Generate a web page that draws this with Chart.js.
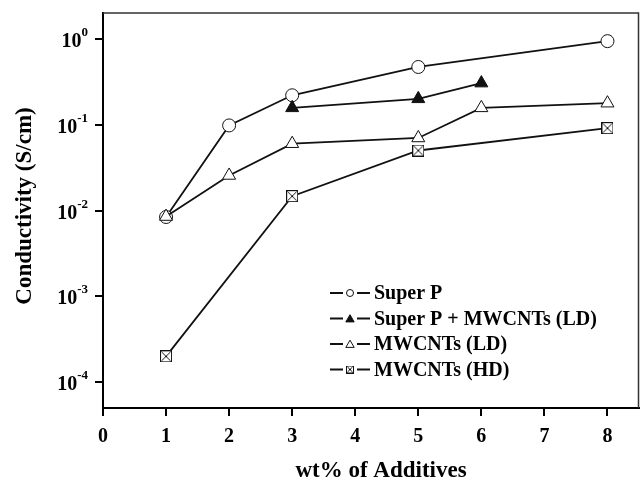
<!DOCTYPE html>
<html>
<head>
<meta charset="utf-8">
<script src="https://cdn.jsdelivr.net/npm/chart.js@4"></script>
<style>
html, body { margin: 0; padding: 0; background: #fff; }
canvas { display: block; }
</style>
</head>
<body>
<canvas id="chart" width="640" height="480"></canvas>
<script>
// data
const seriesLabels = ["Super P", "Super P + MWCNTs (LD)", "MWCNTs (LD)", "MWCNTs (HD)"];

const superPX = [1, 2, 3, 5, 8];
const superPY = [0.0084, 0.098, 0.22, 0.47, 0.94];

const superPMwX = [3, 5, 6];
const superPMwY = [0.157, 0.2, 0.305];

const mwLdX = [1, 2, 3, 5, 6, 8];
const mwLdY = [0.0085, 0.0256, 0.06, 0.07, 0.157, 0.178];

const mwHdX = [1, 3, 5, 8];
const mwHdY = [0.0002, 0.0147, 0.05, 0.091];

const xTicks = [0, 1, 2, 3, 4, 5, 6, 7, 8];
const yTicks = [1e-4, 1e-3, 1e-2, 1e-1, 1];
const yTickExp = ["-4", "-3", "-2", "-1", "0"];

const xTitle = "wt% of Additives";
const yTitle = "Conductivity (S/cm)";

const FONT = "'Liberation Serif', 'Times New Roman', serif";

// crossed square marker
function crossSquare(size) {
    const c = document.createElement("canvas");
    c.width = size;
    c.height = size;
    const g = c.getContext("2d");
    g.fillStyle = "#fff";
    g.fillRect(0, 0, size, size);
    g.strokeStyle = "#111";
    g.lineWidth = 1;
    g.strokeRect(0.5, 0.5, size - 1, size - 1);
    g.beginPath();
    g.moveTo(1.5, 1.5); g.lineTo(size - 1.5, size - 1.5);
    g.moveTo(size - 1.5, 1.5); g.lineTo(1.5, size - 1.5);
    g.stroke();
    return c;
}

const markers = [
    { style: "circle", fill: "#fff", radius: 6.5 },
    { style: "triangle", fill: "#111", radius: 7.5 },
    { style: "triangle", fill: "#fff", radius: 7.5 },
    { style: crossSquare(12), fill: "#fff", radius: 6 }
];

function toPoints(xs, ys) {
    return xs.map((x, i) => ({ x: x, y: ys[i] }));
}

const seriesData = [
    toPoints(superPX, superPY),
    toPoints(superPMwX, superPMwY),
    toPoints(mwLdX, mwLdY),
    toPoints(mwHdX, mwHdY)
];

const datasets = seriesLabels.map((label, i) => ({
    label: label,
    data: seriesData[i],
    borderColor: "#111",
    borderWidth: 1.8,
    pointStyle: markers[i].style,
    pointRadius: markers[i].radius,
    pointBackgroundColor: markers[i].fill,
    pointBorderColor: "#111",
    pointBorderWidth: 1,
    tension: 0,
    order: seriesLabels.length - i
}));

// small marker for the legend
function legendMarker(ctx, i, x, y) {
    ctx.save();
    ctx.strokeStyle = "#111";
    ctx.lineWidth = 1;
    if (i === 0) {
        ctx.beginPath();
        ctx.arc(x, y, 3.5, 0, Math.PI * 2);
        ctx.fillStyle = "#fff";
        ctx.fill();
        ctx.stroke();
    } else if (i === 1 || i === 2) {
        const r = 4.8;
        ctx.beginPath();
        ctx.moveTo(x, y - r + 1);
        ctx.lineTo(x + r * 0.87, y + r * 0.5 + 1);
        ctx.lineTo(x - r * 0.87, y + r * 0.5 + 1);
        ctx.closePath();
        ctx.fillStyle = i === 1 ? "#111" : "#fff";
        ctx.fill();
        ctx.stroke();
    } else {
        ctx.drawImage(crossSquare(8), x - 4, y - 4);
    }
    ctx.restore();
}

const extras = {
    id: "extras",
    afterDraw(chart) {
        const ctx = chart.ctx;
        const a = chart.chartArea;
        const xs = chart.scales.x;
        const ys = chart.scales.y;

        // top and right frame
        ctx.save();
        ctx.strokeStyle = "#333";
        ctx.lineWidth = 1.5;
        ctx.beginPath();
        ctx.moveTo(a.left, a.top);
        ctx.lineTo(a.right - 0.5, a.top);
        ctx.lineTo(a.right - 0.5, a.bottom);
        ctx.stroke();
        ctx.restore();

        // x tick labels
        ctx.save();
        ctx.fillStyle = "#000";
        ctx.font = "bold 20px " + FONT;
        ctx.textAlign = "center";
        ctx.textBaseline = "middle";
        xTicks.forEach(v => {
            ctx.fillText(String(v), xs.getPixelForValue(v), 437);
        });
        ctx.restore();

        // y tick labels as 10 with exponent
        ctx.save();
        ctx.fillStyle = "#000";
        ctx.textAlign = "right";
        ctx.textBaseline = "alphabetic";
        yTicks.forEach((v, i) => {
            const py = ys.getPixelForValue(v);
            ctx.font = "bold 13px " + FONT;
            const w = ctx.measureText(yTickExp[i]).width;
            ctx.fillText(yTickExp[i], 88, py - 3);
            ctx.font = "bold 20px " + FONT;
            ctx.fillText("10", 88 - w, py + 8);
        });
        ctx.restore();

        // axis titles
        ctx.save();
        ctx.fillStyle = "#000";
        ctx.font = "bold 23px " + FONT;
        ctx.textAlign = "center";
        ctx.textBaseline = "alphabetic";
        ctx.fillText(xTitle, 381, 477);
        ctx.translate(31, 206);
        ctx.rotate(-Math.PI / 2);
        ctx.fillText(yTitle, 0, 0);
        ctx.restore();

        // legend
        ctx.save();
        ctx.font = "bold 20px " + FONT;
        ctx.fillStyle = "#000";
        ctx.textAlign = "left";
        ctx.textBaseline = "middle";
        seriesLabels.forEach((label, i) => {
            const y = 293 + i * 25.5;
            ctx.strokeStyle = "#111";
            ctx.lineWidth = 1.8;
            ctx.beginPath();
            ctx.moveTo(330, y); ctx.lineTo(343, y);
            ctx.moveTo(357, y); ctx.lineTo(370, y);
            ctx.stroke();
            legendMarker(ctx, i, 350, y);
            ctx.fillText(label, 374, y + 1);
        });
        ctx.restore();
    }
};

const chart = new Chart(document.getElementById("chart"), {
    type: "line",
    data: { datasets: datasets },
    options: {
        responsive: false,
        animation: false,
        devicePixelRatio: 1,
        // autoPadding reserves room for the point radius, which shrank the plot on the right
        layout: { autoPadding: false, padding: { left: 0, top: 13, right: 1, bottom: 0 } },
        plugins: {
            legend: { display: false },
            tooltip: { enabled: false }
        },
        scales: {
            x: {
                type: "linear",
                min: 0,
                max: 8.5,
                afterBuildTicks: s => { s.ticks = xTicks.map(v => ({ value: v })); },
                afterFit: s => { s.height = 72; s.paddingLeft = 0; s.paddingRight = 0; },
                grid: { drawOnChartArea: false, drawTicks: true, tickLength: 8, color: "#000", lineWidth: 2 },
                border: { display: true, color: "#000", width: 2 },
                ticks: { display: false }
            },
            y: {
                type: "logarithmic",
                min: 5e-5,
                max: 2,
                afterBuildTicks: s => { s.ticks = yTicks.map(v => ({ value: v })); },
                afterFit: s => { s.width = 103; s.paddingTop = 0; s.paddingBottom = 0; },
                grid: { drawOnChartArea: false, drawTicks: true, tickLength: 8, color: "#000", lineWidth: 2 },
                border: { display: true, color: "#000", width: 2 },
                ticks: { callback: () => "", autoSkip: false }
            }
        }
    },
    plugins: [extras]
});
</script>
</body>
</html>
